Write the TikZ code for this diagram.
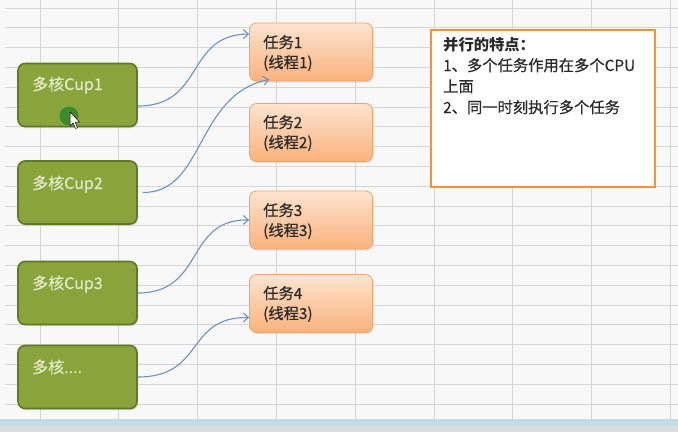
\documentclass[tikz,border=0pt]{standalone}
\usepackage{fontspec}
\setmainfont{Noto Sans CJK SC}
\newfontfamily\medfont[FakeBold=0.5]{Noto Sans CJK SC}
\usetikzlibrary{arrows.meta,calc,shadows}
\definecolor{bgc}{HTML}{F8F8F8}
\definecolor{gridc}{HTML}{D6D6D6}
\definecolor{gfill}{HTML}{88A43A}
\definecolor{gdraw}{HTML}{5E7A24}
\definecolor{gtext}{HTML}{E2EACB}
\definecolor{otop}{HTML}{FDE4CF}
\definecolor{obot}{HTML}{F9B27C}
\definecolor{odraw}{HTML}{EFA568}
\definecolor{boxdraw}{HTML}{F0933C}
\definecolor{arrc}{HTML}{6A93C4}
\definecolor{dotc}{HTML}{3E8B2B}
\definecolor{bandc}{HTML}{C2DCE9}
\definecolor{footc}{HTML}{DCDCDC}
\definecolor{txt}{HTML}{2A2A2A}
\tikzset{
  cpubox/.style={draw=gdraw, line width=1.6pt, fill=gfill, rounded corners=7pt,
    minimum width=119pt, minimum height=63pt, inner sep=0pt,
    drop shadow={shadow xshift=1pt, shadow yshift=-1.5pt, opacity=0.25}},
  taskbox/.style={draw=odraw, line width=0.8pt, top color=otop, bottom color=obot,
    rounded corners=7pt, minimum width=123pt, minimum height=58pt, inner sep=0pt,
    drop shadow={shadow xshift=1pt, shadow yshift=-1.5pt, opacity=0.2}},
  cputext/.style={anchor=base west, text=gtext, inner sep=0pt, font=\medfont\fontsize{16}{20}\selectfont},
  tasktext/.style={anchor=base west, text=txt, inner sep=0pt, font=\medfont\fontsize{15.3}{20}\selectfont},
  notetext/.style={anchor=base west, text=txt, inner sep=0pt, font=\medfont\fontsize{15.3}{20}\selectfont},
  link/.style={draw=arrc, line width=1.1pt, -{Straight Barb[length=5pt,width=9pt]}},
}
\begin{document}
\begin{tikzpicture}[x=1pt,y=-1pt]
\useasboundingbox (0,0) rectangle (678,432);
\fill[bgc] (0,0) rectangle (678,432);
% spreadsheet grid
\foreach \k in {0,...,20} \draw[gridc, line width=1pt] (5,{8+19.8*\k}) -- (678,{8+19.8*\k});
\foreach \k in {0,...,8} \draw[gridc, line width=1pt] ({40+78.8*\k},0) -- ({40+78.8*\k},419);
% bottom bars
\fill[bandc] (0,419) rectangle (678,426);
\fill[footc] (0,426) rectangle (678,432);

% CPU boxes
\node[cpubox] (c1) at (77.5,95) {};
\node[cpubox] (c2) at (77.5,192.5) {};
\node[cpubox] (c3) at (77.5,293) {};
\node[cpubox] (c4) at (77.5,377) {};
\node[cputext] (c1t) at (32,90) {多核Cup1};
\node[cputext] (c2t) at (32,189) {多核Cup2};
\node[cputext] (c3t) at (32,289) {多核Cup3};
\node[cputext] (c4t) at (32,373) {多核....};

% mouse highlight and pointer
\fill[dotc] (69,116) circle (9.5pt);
\draw[black, fill=white, line width=0.5pt, line join=round]
  (70,112) -- (70,126) -- (73.2,123) -- (75.5,128.5) -- (77.5,127.6) -- (75.2,122.2) -- (79.5,122) -- cycle;

% task boxes
\node[taskbox] (t1) at (311,52) {};
\node[taskbox] (t2) at (311,132.5) {};
\node[taskbox] (t3) at (311,220) {};
\node[taskbox] (t4) at (311,303.5) {};
\node[tasktext] (t1a) at (263,48) {任务1};
\node[tasktext] (t1b) at (263,68) {(线程1)};
\node[tasktext] (t2a) at (263,128) {任务2};
\node[tasktext] (t2b) at (263,148) {(线程2)};
\node[tasktext] (t3a) at (263,216) {任务3};
\node[tasktext] (t3b) at (263,236) {(线程3)};
\node[tasktext] (t4a) at (263,299) {任务4};
\node[tasktext] (t4b) at (263,319) {(线程3)};

% note box
\node[draw=boxdraw, line width=2pt, fill=white!97!bgc, minimum width=224pt, minimum height=157pt, inner sep=0pt] (note) at (542.5,108) {};
\node[notetext, font=\fontsize{15.3}{20}\selectfont\bfseries] (n1) at (443,50) {并行的特点：};
\node[notetext] (n2) at (443,71) {1、多个任务作用在多个CPU};
\node[notetext] (n3) at (443,92) {上面};
\node[notetext] (n4) at (443,113) {2、同一时刻执行多个任务};

% connectors
\draw[link] ($(c1.east)+(0,11)$) .. controls (205,106) and (185,35) .. ($(t1.west)+(0,-18)$);
\draw[link] ($(c2.east)+(5,0)$) .. controls (205,193) and (195,95) .. ($(t1.south west)+(20,-2)$);
\draw[link] (c3.east) .. controls (205,293) and (185,219) .. (t3.west);
\draw[link] (c4.east) .. controls (205,377) and (185,317) .. ($(t4.west)+(0,14)$);
\end{tikzpicture}
\end{document}
